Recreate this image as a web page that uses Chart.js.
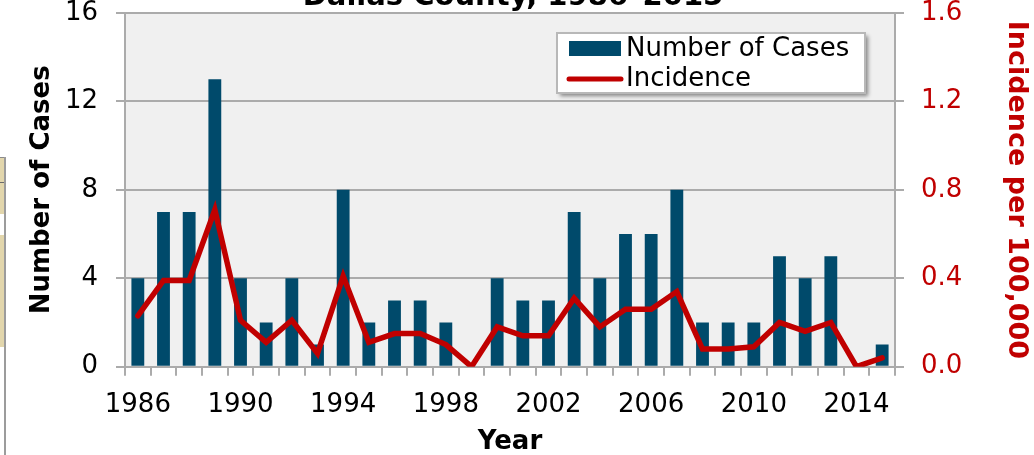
<!DOCTYPE html>
<html>
<head>
<meta charset="utf-8">
<script src="https://cdn.jsdelivr.net/npm/chart.js@4.4.0/dist/chart.umd.min.js"></script>
<style>
  html, body { margin: 0; padding: 0; background: #fff; overflow: hidden; }
  #wrap { position: relative; width: 1034px; height: 455px; }
  #side { position: absolute; left: 0; top: 157px; width: 4px; height: 298px; border-right: 2px solid #9c9c9c; }
  #side .b1 { position: absolute; left: 0; top: 0; width: 4px; height: 56px; background: #e2d6ac; border-top: 1px solid #8a8a8a; }
  #side .ln { position: absolute; left: 0; top: 25px; width: 4px; height: 1px; background: #6a6a6a; }
  #side .b2 { position: absolute; left: 0; top: 78px; width: 4px; height: 112px; background: #e2d6ac; }
  canvas { display: block; }
</style>
</head>
<body>
<div id="wrap">
  <canvas id="chart" width="1034" height="455"></canvas>
  <div id="side"><div class="b1"></div><div class="ln"></div><div class="b2"></div></div>
</div>
<script>
/* Dallas County cases + incidence, 1986-2015 */

const YEARS = ['1986', '1987', '1988', '1989', '1990', '1991', '1992', '1993', '1994', '1995',
  '1996', '1997', '1998', '1999', '2000', '2001', '2002', '2003', '2004', '2005',
  '2006', '2007', '2008', '2009', '2010', '2011', '2012', '2013', '2014', '2015'];
const CASES = [4, 7, 7, 13, 4, 2, 4, 1, 8, 2, 3, 3, 2, 0, 4, 3, 3, 7, 4, 6, 6, 8, 2, 2, 2, 5, 4, 5, 0, 1];
const INCIDENCE = [0.23, 0.39, 0.39, 0.71, 0.21, 0.11, 0.21, 0.06, 0.41, 0.11, 0.15, 0.15, 0.10, 0.0, 0.18,
  0.14, 0.14, 0.31, 0.18, 0.26, 0.26, 0.34, 0.08, 0.08, 0.09, 0.20, 0.16, 0.20, 0.0, 0.04];
const TITLE = 'Dallas County, 1986–2015';

const FONT = '"DejaVu Sans", Verdana, sans-serif';
const BAR = '#004a6b';
const RED = '#c00000';
const GRID = '#ababab';

/* ---------- plot background + cut-off title ---------- */
const backdrop = {
  id: 'backdrop',
  beforeDraw(chart) {
    const { ctx, chartArea: a } = chart;
    ctx.save();
    ctx.fillStyle = '#f0f0f0';
    ctx.fillRect(a.left, a.top, a.right - a.left, a.bottom - a.top);
    ctx.fillStyle = '#000';
    ctx.font = 'bold 29px ' + FONT;
    ctx.textAlign = 'center';
    ctx.textBaseline = 'alphabetic';
    ctx.fillText(TITLE, 513, 5);
    ctx.restore();
  },
};

/* ---------- boxed legend inside the plot ---------- */
const legendBox = {
  id: 'legendBox',
  afterDraw(chart) {
    const { ctx, chartArea } = chart;
    const x = chartArea.left + 432, y = chartArea.top + 20, w = 308, h = 60;
    const [bars, line] = chart.data.datasets;
    ctx.save();
    ctx.shadowColor = 'rgba(0,0,0,0.45)';
    ctx.shadowOffsetX = 3; ctx.shadowOffsetY = 3; ctx.shadowBlur = 4;
    ctx.fillStyle = '#fff';
    ctx.fillRect(x, y, w, h);
    ctx.restore();

    ctx.save();
    ctx.strokeStyle = '#b8b8b8'; ctx.lineWidth = 2;
    ctx.strokeRect(x, y, w, h);
    ctx.fillStyle = bars.backgroundColor;
    ctx.fillRect(x + 12, y + 8, 52, 15);
    ctx.strokeStyle = line.borderColor; ctx.lineWidth = 5; ctx.lineCap = 'round';
    ctx.beginPath(); ctx.moveTo(x + 12, y + 46); ctx.lineTo(x + 64, y + 46); ctx.stroke();
    ctx.fillStyle = '#000';
    ctx.font = '26px ' + FONT;
    ctx.textBaseline = 'middle';
    ctx.fillText(bars.label, x + 69, y + 16);
    ctx.fillText(line.label, x + 69, y + 46);
    ctx.restore();
  },
};

new Chart(document.getElementById('chart'), {
  type: 'bar',
  data: {
    labels: YEARS,
    datasets: [
      { label: 'Number of Cases', data: CASES, yAxisID: 'y', backgroundColor: BAR, order: 1,
        barPercentage: 0.5, categoryPercentage: 1 },
      { type: 'line', label: 'Incidence', data: INCIDENCE, yAxisID: 'y1', borderColor: RED, borderWidth: 5.5,
        pointRadius: 0, tension: 0, borderJoinStyle: 'miter', borderCapStyle: 'round', order: 0 },
    ],
  },
  options: {
    responsive: false, animation: false,
    layout: { padding: { top: 13, left: 0, right: 0, bottom: 0 } },
    plugins: { legend: { display: false }, tooltip: { enabled: false } },
    scales: {
      x: {
        grid: { drawOnChartArea: false, color: GRID, lineWidth: 2, tickLength: 9, offset: true },
        border: { color: GRID, width: 2 },
        ticks: {
          color: '#000', font: { family: FONT, size: 26 }, padding: 14, autoSkip: false, maxRotation: 0,
          callback: (v, i) => (i % 4 === 0 ? YEARS[i] : ''),
        },
        title: { display: true, text: 'Year', color: '#000', font: { family: FONT, size: 26, weight: 'bold', lineHeight: 1 }, padding: 0 },
        afterFit: (s) => { s.height = 88.3; s.paddingLeft = 0; s.paddingRight = 0; },
      },
      y: {
        position: 'left', min: 0, max: 16,
        grid: { color: GRID, lineWidth: 2, tickLength: 9 },
        border: { color: GRID, width: 2 },
        ticks: { stepSize: 4, color: '#000', font: { family: FONT, size: 26 }, padding: 18 },
        title: { display: true, text: 'Number of Cases', color: '#000', font: { family: FONT, size: 26, weight: 'bold' }, padding: { top: 27, bottom: 0 } },
        afterFit: (s) => { s.width = 125; s.paddingTop = 0; s.paddingBottom = 0; },
      },
      y1: {
        position: 'right', min: 0, max: 1.6,
        grid: { drawOnChartArea: false, color: GRID, lineWidth: 2, tickLength: 9 },
        border: { color: GRID, width: 2 },
        ticks: { stepSize: 0.4, color: RED, font: { family: FONT, size: 26 }, padding: 17, callback: (v) => v.toFixed(1) },
        title: { display: true, text: 'Incidence per 100,000', color: RED, font: { family: FONT, size: 27, weight: 'bold' }, padding: { top: 2, bottom: 0 } },
        afterFit: (s) => { s.width = 139; s.paddingTop = 0; s.paddingBottom = 0; },
      },
    },
  },
  plugins: [backdrop, legendBox],
});
</script>
</body>
</html>
